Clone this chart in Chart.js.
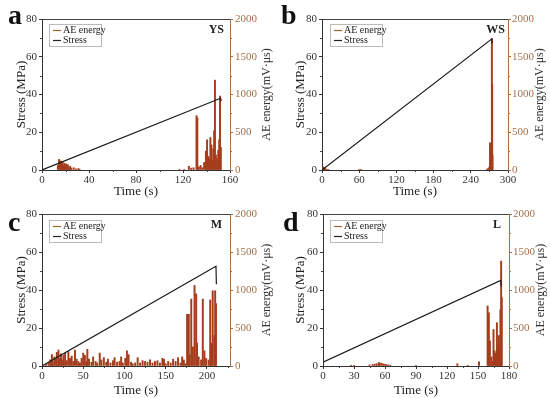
<!DOCTYPE html>
<html>
<head>
<meta charset="utf-8">
<script src="https://cdn.jsdelivr.net/npm/chart.js@4.4.1/dist/chart.umd.min.js"></script>
<style>
  html, body { margin: 0; padding: 0; background: #fff; }
  #wrap { position: relative; width: 550px; height: 398px; }
  canvas { position: absolute; }
</style>
</head>
<body>
<div id="wrap">
  <canvas id="chartA" width="275" height="199" style="left:0;top:0"></canvas>
  <canvas id="chartB" width="275" height="199" style="left:275px;top:0"></canvas>
  <canvas id="chartC" width="275" height="199" style="left:0;top:199px"></canvas>
  <canvas id="chartD" width="275" height="199" style="left:275px;top:199px"></canvas>
</div>
<script>
// panel a (YS)
const aeTimeA = [13.5, 14.5, 15, 16, 16.5, 17.5, 18, 19, 19.5, 20.5, 21, 22, 23, 24, 25, 27, 29, 31, 32,
  117, 121, 125, 127, 129, 131.5, 132.2, 133.5, 135, 136.5, 138, 139.5, 140.5, 141.5, 142.5, 143.3, 144.2,
  145, 145.8, 146.5, 147.2, 148, 149, 150, 150.8, 151.5, 152.2];
const aeEnergyA = [60, 140, 90, 120, 70, 110, 60, 90, 50, 80, 40, 70, 30, 50, 25, 30, 15, 20, 10,
  10, 8, 50, 25, 30, 720, 690, 40, 60, 30, 100, 250, 400, 180, 150, 430, 330,
  120, 280, 520, 1190, 200, 150, 260, 400, 980, 300];
const stressTimeA = [0, 152, 152.5];
const stressA = [0, 38, 36.5];

// panel b (WS)
const aeTimeB = [1, 2, 3, 4, 5, 7, 10, 60, 63, 266, 268, 270, 271, 272, 273, 273.5, 274, 274.5, 275];
const aeEnergyB = [20, 40, 30, 15, 25, 10, 8, 8, 5, 10, 20, 40, 360, 200, 150, 300, 1740, 1130, 200];
const stressTimeB = [0, 274, 274.5];
const stressB = [0, 69.5, 67];

// panel c (M)
const aeTimeC = [5, 8, 10, 12, 13, 15, 17, 18, 20, 21, 23, 25, 26, 28, 30, 32, 34, 36, 38, 40, 42, 44, 46, 48,
  50, 52, 54, 55, 57, 60, 62, 65, 67, 70, 72, 75, 78, 80, 83, 86, 88, 91, 94, 96, 98, 101, 103, 105, 108,
  110, 113, 116, 119, 122, 125, 128, 131, 134, 137, 140, 143, 146, 148, 150, 153, 156, 159, 162, 165, 168,
  170, 172, 174, 176, 178, 179, 181, 183, 185, 187, 188, 190, 193, 195, 197, 199, 202, 204, 205, 207, 209,
  210, 211];
const aeEnergyC = [20, 40, 80, 150, 60, 120, 90, 180, 210, 100, 160, 80, 140, 170, 70, 190, 100, 130, 60, 210, 90, 60, 40, 100,
  170, 140, 60, 220, 90, 50, 120, 60, 40, 170, 80, 110, 50, 90, 40, 70, 110, 50, 60, 120, 40, 100, 200, 150, 50,
  30, 40, 110, 40, 70, 60, 50, 80, 40, 60, 70, 40, 100, 90, 30, 60, 40, 90, 60, 110, 40,
  120, 80, 30, 680, 680, 150, 880, 250, 1060, 950, 300, 120, 80, 880, 200, 100, 80, 870, 300,
  990, 400, 990, 820];
const stressTimeC = [0, 211, 211.5];
const stressC = [0, 52.5, 43];

// panel d (L)
const aeTimeD = [27, 30, 45, 48, 50, 52, 54, 55, 57, 59, 61, 63, 65, 90, 130, 140, 151,
  159.3, 160.5, 161.5, 163, 164, 165, 166, 167, 168.3, 169, 170.2, 171, 171.7, 172.4, 173];
const aeEnergyD = [10, 5, 15, 20, 25, 30, 45, 40, 35, 25, 20, 15, 10, 5, 30, 10, 55,
  790, 700, 330, 120, 60, 480, 200, 170, 570, 250, 400, 300, 740, 1380, 900];
const stressTimeD = [0, 172, 172.5];
const stressD = [2, 45, 42];

const stressTicks = [0, 20, 40, 60, 80];
const energyTicks = [0, 500, 1000, 1500, 2000];

const AE_COLOR = "#a53d1d";
const AE_LEGEND = "#a0652f";
const RIGHT_COLOR = "#a5704a";
const SERIF = "'Liberation Serif', 'Times New Roman', serif";

function toPoints(xs, ys) {
  return xs.map((x, i) => ({ x, y: ys[i] }));
}

const decorPlugin = {
  id: "panelDecor",
  afterDraw(chart, args, opts) {
    const { ctx, chartArea } = chart;
    const xScale = chart.scales.x;
    const yScale = chart.scales.y;
    const y2Scale = chart.scales.y2;
    ctx.save();

    // top frame line
    ctx.strokeStyle = "#444";
    ctx.lineWidth = 1;
    ctx.beginPath();
    ctx.moveTo(chartArea.left, chartArea.top + 0.5);
    ctx.lineTo(chartArea.right, chartArea.top + 0.5);
    ctx.stroke();

    // minor ticks
    ctx.beginPath();
    for (let v = opts.xMinor; v < xScale.max; v += opts.xMinor * 2) {
      const px = Math.round(xScale.getPixelForValue(v)) + 0.5;
      ctx.moveTo(px, chartArea.bottom);
      ctx.lineTo(px, chartArea.bottom + 2);
    }
    for (let v = 10; v < 80; v += 20) {
      const py = Math.round(yScale.getPixelForValue(v)) + 0.5;
      ctx.moveTo(chartArea.left, py);
      ctx.lineTo(chartArea.left - 2, py);
    }
    ctx.stroke();
    ctx.strokeStyle = RIGHT_COLOR;
    ctx.beginPath();
    for (let v = 250; v < 2000; v += 500) {
      const py = Math.round(y2Scale.getPixelForValue(v)) + 0.5;
      ctx.moveTo(chartArea.right, py);
      ctx.lineTo(chartArea.right + 2, py);
    }
    ctx.stroke();

    // legend box
    const lx = chartArea.left + opts.legendDx;
    const ly = chartArea.top + opts.legendDy;
    ctx.strokeStyle = "#bbb";
    ctx.strokeRect(lx + 0.5, ly + 0.5, 52, 22);
    ctx.font = "10px " + SERIF;
    ctx.textBaseline = "middle";
    ctx.textAlign = "left";
    ctx.lineWidth = 1.2;
    ctx.strokeStyle = AE_LEGEND;
    ctx.beginPath();
    ctx.moveTo(lx + 4, ly + 6.5);
    ctx.lineTo(lx + 12, ly + 6.5);
    ctx.stroke();
    ctx.strokeStyle = "#222";
    ctx.beginPath();
    ctx.moveTo(lx + 4, ly + 16.5);
    ctx.lineTo(lx + 12, ly + 16.5);
    ctx.stroke();
    ctx.fillStyle = "#222";
    ctx.fillText("AE energy", lx + 14, ly + 6.5);
    ctx.fillText("Stress", lx + 14, ly + 16.5);

    // sample label
    ctx.font = "bold 12px " + SERIF;
    ctx.textAlign = "right";
    ctx.fillText(opts.tag, chartArea.right - opts.tagDx, chartArea.top + 11);

    // panel letter
    ctx.font = "bold 28px " + SERIF;
    ctx.textAlign = "left";
    ctx.textBaseline = "alphabetic";
    ctx.fillStyle = "#111";
    ctx.fillText(opts.letter, opts.letterX, opts.letterY);

    // right axis title, reading bottom to top
    ctx.font = "12px " + SERIF;
    ctx.fillStyle = "#333";
    ctx.textAlign = "center";
    ctx.textBaseline = "middle";
    ctx.translate(chartArea.right + opts.rightTitleDx, (chartArea.top + chartArea.bottom) / 2);
    ctx.rotate(-Math.PI / 2);
    ctx.fillText("AE energy(mV\u00b7\u03bcs)", 0, 0);
    ctx.restore();
  }
};

function makePanel(id, cfg) {
  const canvas = document.getElementById(id);
  const W = canvas.width;
  const H = canvas.height;
  return new Chart(canvas, {
    data: {
      datasets: [
        {
          type: "line",
          label: "Stress",
          data: toPoints(cfg.stressTime, cfg.stress),
          yAxisID: "y",
          borderColor: "#1c1c1c",
          borderWidth: 1.2,
          pointRadius: 0,
          tension: 0,
          order: 0
        },
        {
          type: "bar",
          label: "AE energy",
          data: toPoints(cfg.aeTime, cfg.ae),
          yAxisID: "y2",
          backgroundColor: AE_COLOR,
          barThickness: 1.3,
          order: 1
        }
      ]
    },
    options: {
      responsive: false,
      animation: false,
      layout: { padding: { top: cfg.area.top, left: 0, right: 0, bottom: 0 } },
      plugins: {
        legend: { display: false },
        tooltip: { enabled: false },
        panelDecor: cfg.decor
      },
      scales: {
        x: {
          type: "linear",
          min: 0,
          max: cfg.xMax,
          offset: false,
          afterBuildTicks: (scale) => {
            scale.ticks = cfg.xTicks.map((v) => ({ value: v }));
          },
          afterFit: (scale) => { scale.height = H - cfg.area.bottom; },
          grid: { drawOnChartArea: false, drawTicks: true, tickLength: 3, color: "#333", offset: false },
          border: { color: "#333", width: 1 },
          ticks: { color: "#333", padding: 1, maxRotation: 0, font: { family: SERIF, size: 11 } },
          title: { display: true, text: "Time (s)", color: "#222", padding: { top: 0, bottom: 0 }, font: { family: SERIF, size: 13 } }
        },
        y: {
          position: "left",
          min: 0,
          max: 80,
          afterBuildTicks: (scale) => {
            scale.ticks = stressTicks.map((v) => ({ value: v }));
          },
          afterFit: (scale) => { scale.width = cfg.area.left; },
          grid: { drawOnChartArea: false, drawTicks: true, tickLength: 3, color: "#333" },
          border: { color: "#333", width: 1 },
          ticks: { color: "#333", padding: 2, font: { family: SERIF, size: 11 } },
          title: { display: true, text: "Stress (MPa)", color: "#222", padding: { top: cfg.leftTitlePad, bottom: 0 }, font: { family: SERIF, size: 13 } }
        },
        y2: {
          position: "right",
          min: 0,
          max: 2000,
          afterBuildTicks: (scale) => {
            scale.ticks = energyTicks.map((v) => ({ value: v }));
          },
          afterFit: (scale) => { scale.width = W - cfg.area.right; },
          grid: { drawOnChartArea: false, drawTicks: true, tickLength: 3, color: RIGHT_COLOR },
          border: { color: RIGHT_COLOR, width: 1 },
          ticks: { color: RIGHT_COLOR, padding: cfg.rightPad, font: { family: SERIF, size: 11 }, callback: (value) => String(value) }
        }
      }
    },
    plugins: [decorPlugin]
  });
}

makePanel("chartA", {
  aeTime: aeTimeA, ae: aeEnergyA, stressTime: stressTimeA, stress: stressA,
  xMax: 160, xTicks: [0, 40, 80, 120, 160],
  area: { left: 42, right: 230, top: 19, bottom: 170 },
  leftTitlePad: 14, rightPad: 2,
  decor: { xMinor: 20, legendDx: 7, legendDy: 5, tag: "YS", tagDx: 6, letter: "a", letterX: 8, letterY: 24, rightTitleDx: 37 }
});

makePanel("chartB", {
  aeTime: aeTimeB, ae: aeEnergyB, stressTime: stressTimeB, stress: stressB,
  xMax: 300, xTicks: [0, 60, 120, 180, 240, 300],
  area: { left: 47, right: 233, top: 19, bottom: 170 },
  leftTitlePad: 18, rightPad: 1,
  decor: { xMinor: 30, legendDx: 8, legendDy: 5, tag: "WS", tagDx: 3, letter: "b", letterX: 6, letterY: 24, rightTitleDx: 32 }
});

makePanel("chartC", {
  aeTime: aeTimeC, ae: aeEnergyC, stressTime: stressTimeC, stress: stressC,
  xMax: 228, xTicks: [0, 50, 100, 150, 200],
  area: { left: 42, right: 230, top: 15, bottom: 167 },
  leftTitlePad: 14, rightPad: 2,
  decor: { xMinor: 25, legendDx: 7, legendDy: 6, tag: "M", tagDx: 8, letter: "c", letterX: 8, letterY: 32, rightTitleDx: 37 }
});

makePanel("chartD", {
  aeTime: aeTimeD, ae: aeEnergyD, stressTime: stressTimeD, stress: stressD,
  xMax: 180, xTicks: [0, 30, 60, 90, 120, 150, 180],
  area: { left: 48, right: 234, top: 15, bottom: 167 },
  leftTitlePad: 18, rightPad: 1,
  decor: { xMinor: 15, legendDx: 7, legendDy: 6, tag: "L", tagDx: 8, letter: "d", letterX: 8, letterY: 32, rightTitleDx: 32 }
});
</script>
</body>
</html>
